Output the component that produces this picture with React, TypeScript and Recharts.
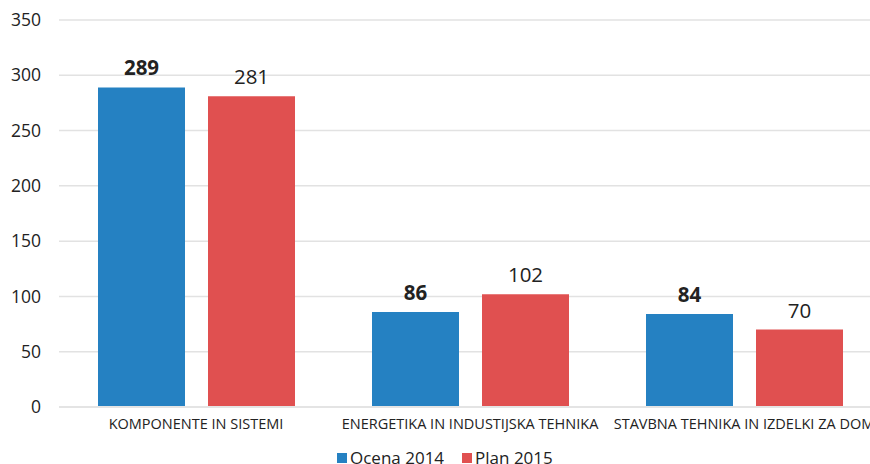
import React from "react";
import { BarChart, Bar, XAxis, YAxis, CartesianGrid, LabelList, Legend } from "recharts";

const categories = ["KOMPONENTE IN SISTEMI", "ENERGETIKA IN INDUSTIJSKA TEHNIKA", "STAVBNA TEHNIKA IN IZDELKI ZA DOM"];
const ocena2014 = [289, 86, 84];
const plan2015 = [281, 102, 70];
const yTicks = [0, 50, 100, 150, 200, 250, 300, 350];
const seriesNames = ["Ocena 2014", "Plan 2015"];

const BLUE = "#2581C2";
const RED = "#E05050";
const FONT = "'Open Sans', 'Noto Sans', sans-serif";

const data = categories.map((c, i) => ({ name: c, a: ocena2014[i], b: plan2015[i] }));

const LegendContent = () => (
  <div style={{ display: "flex", alignItems: "center", fontFamily: FONT, fontSize: 17, color: "#222" }}>
    <span style={{ width: 10, height: 10, background: BLUE, display: "inline-block", marginRight: 3 }} />
    <span style={{ marginRight: 18 }}>{seriesNames[0]}</span>
    <span style={{ width: 10, height: 10, background: RED, display: "inline-block", marginRight: 3 }} />
    <span>{seriesNames[1]}</span>
  </div>
);

export default function App() {
  return (
    <div style={{ position: "absolute", left: 0, top: 0, width: 881, height: 480, background: "#fff" }}>
      <BarChart
        width={881}
        height={480}
        data={data}
        margin={{ top: 20, right: 0, left: 0, bottom: 20 }}
        barCategoryGap="14%"
        barGap={23}
      >
        <CartesianGrid vertical={false} stroke="#e2e2e2" strokeWidth={1.5} />
        <XAxis
          dataKey="name"
          interval={0}
          tickLine={false}
          tickSize={0}
          tickMargin={12}
          height={30}
          axisLine={{ stroke: "#e4e4e4", strokeWidth: 2 }}
          tick={{ fill: "#222", fontSize: 14.5, fontFamily: FONT }}
        />
        <YAxis
          width={59}
          domain={[0, 350]}
          ticks={yTicks}
          axisLine={false}
          tickLine={false}
          tickSize={0}
          tickMargin={18}
          tick={{ fill: "#222", fontSize: 17.5, fontFamily: FONT }}
        />
        <Legend content={<LegendContent />} wrapperStyle={{ position: "absolute", left: 337, top: 446, width: "auto" }} />
        <Bar dataKey="a" name={seriesNames[0]} fill={BLUE} barSize={87} isAnimationActive={false}>
          <LabelList dataKey="a" position="top" offset={12} style={{ fill: "#222", fontSize: 20.5, fontWeight: 700, fontFamily: FONT }} />
        </Bar>
        <Bar dataKey="b" name={seriesNames[1]} fill={RED} barSize={87} isAnimationActive={false}>
          <LabelList dataKey="b" position="top" offset={12} style={{ fill: "#222", fontSize: 20.5, fontFamily: FONT }} />
        </Bar>
      </BarChart>
    </div>
  );
}
